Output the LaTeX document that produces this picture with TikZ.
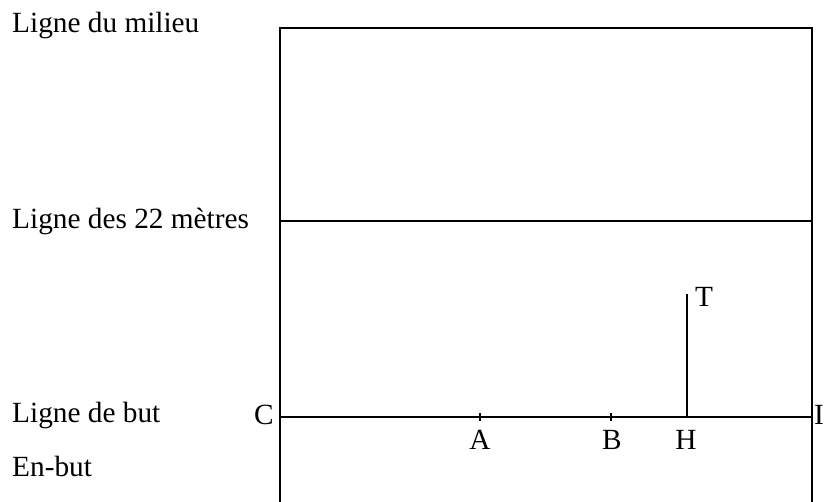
\documentclass[tikz,border=0pt]{standalone}
\usepackage{fontspec}
\setmainfont{Liberation Serif}
\usetikzlibrary{positioning}

\tikzset{
  lbl/.style={font=\fontsize{25}{29}\selectfont, inner sep=0pt},
  pitch/.style={line width=1.1pt, black}
}

\begin{document}
\begin{tikzpicture}[x=0.03cm, y=-0.03cm]
    \useasboundingbox (0,0) rectangle (827,502);
    % Field outline (the pitch goes on below the picture)
    \coordinate (C) at (280,417);
    \coordinate (I) at (812,417);
    \coordinate (topL) at (280,28);
    \coordinate (topR) at (812,28);
    \coordinate (botL) at (280,502);
    \coordinate (botR) at (812,502);
    \coordinate (mL) at (280,221);
    \coordinate (mR) at (812,221);
    \draw[pitch] (botL) -- (topL) -- (topR) -- (botR);
    % 22 metre line and goal line
    \draw[pitch] (mL) -- (mR);
    \draw[pitch] (C) -- (I);
    % Points on the goal line
    \coordinate (A) at (480,417);
    \coordinate (B) at (611,417);
    \coordinate (H) at (687,417);
    \coordinate (T) at (687,294);
    \draw[pitch] ([yshift=3.5]A) -- ([yshift=-3.5]A);
    \draw[pitch] ([yshift=3.5]B) -- ([yshift=-3.5]B);
    \draw[pitch] (H) -- (T);
    % Point labels
    \node[lbl, anchor=east] (labC) at (274,415) {C};
    \node[lbl, anchor=west] (labI) at (814,415) {I};
    \node[lbl] (labA) at (480,440) {A};
    \node[lbl] (labB) at (612,440) {B};
    \node[lbl] (labH) at (686,440) {H};
    \node[lbl, anchor=west] (labT) at (695,297) {T};
    % Line names on the left
    \node[lbl, anchor=west] (milieu) at (12,25) {Ligne du milieu};
    \node[lbl, anchor=west] (vingtdeux) at (12,221) {Ligne des 22 mètres};
    \node[lbl, anchor=west] (but) at (12,415) {Ligne de but};
    \node[lbl, anchor=west] (enbut) at (12,466) {En-but};
\end{tikzpicture}
\end{document}
